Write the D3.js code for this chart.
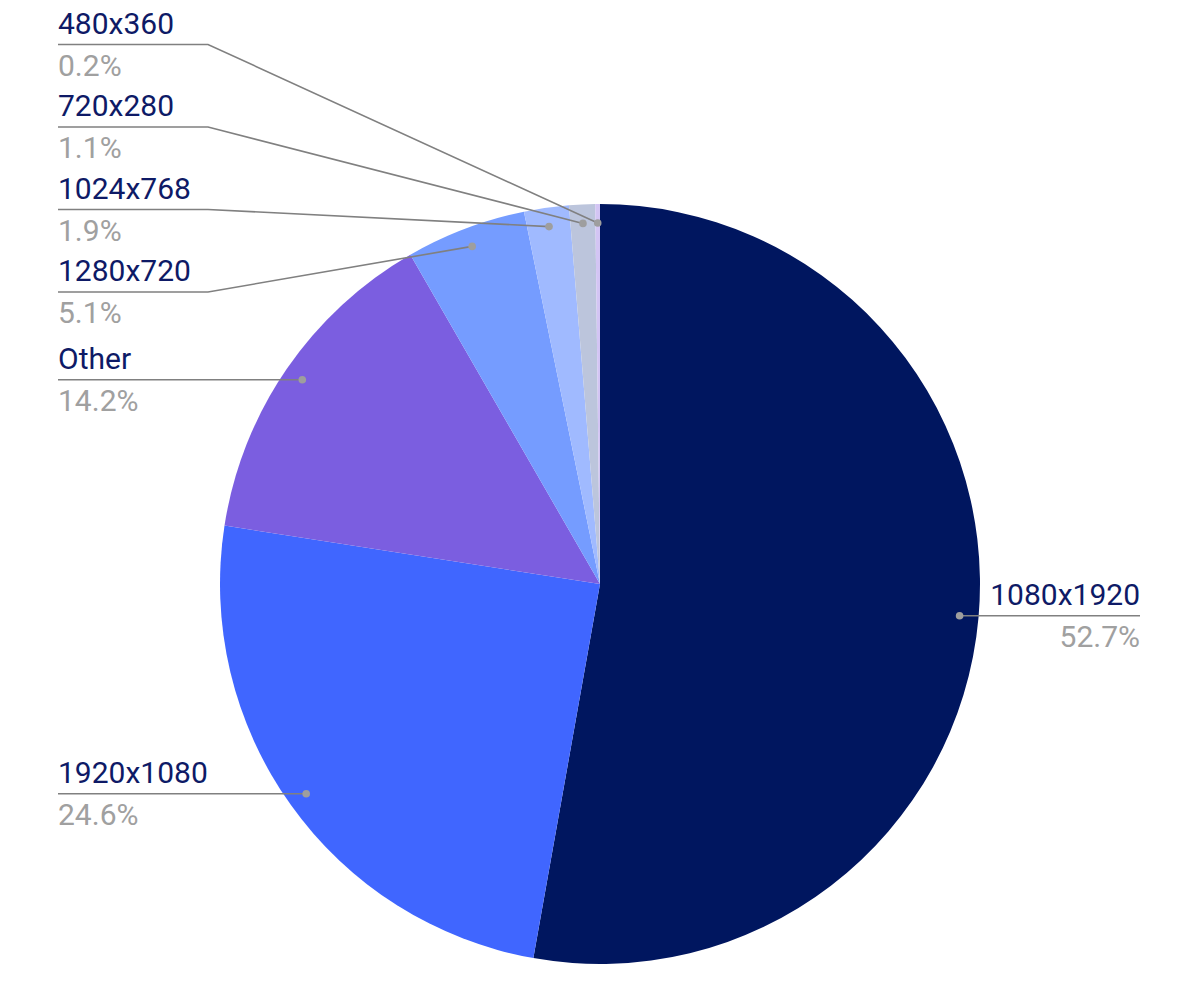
<!DOCTYPE html>
<html><head><meta charset="utf-8">
<script src="https://cdn.jsdelivr.net/npm/d3@7"></script>
<style>body{margin:0;background:#fff}svg{display:block}</style>
</head><body>
<svg id="c" width="1200" height="1006"></svg>
<script>
const categories = ["1080x1920","1920x1080","Other","1280x720","1024x768","720x280","480x360"];
const values = [52.7,24.6,14.2,5.1,1.9,1.1,0.2];
const pctLabels = ["52.7%","24.6%","14.2%","5.1%","1.9%","1.1%","0.2%"];
const colors = ["#00165f","#4066ff","#7b5ee0","#759cff","#a0baff","#bcc5dc","#d3c5f4"];

const svg = d3.select("#c");
const cx = 600, cy = 584, R = 380;
const g = svg.append("g").attr("transform", `translate(${cx},${cy})`);
const data = categories.map((c,i)=>({name:c, value:values[i], pct:pctLabels[i], color:colors[i]}));
const pie = d3.pie().value(d=>d.value).sort(null);
const arcs = pie(data);
const arc = d3.arc().innerRadius(0).outerRadius(R);
g.selectAll("path.s").data(arcs).join("path").attr("class","s")
  .attr("d", arc).attr("fill", d=>d.data.color);

const fontSize = 30;
const leftX = 58, bendX = 208, rightX = 1140;
const anchor = a => { const m=(a.startAngle+a.endAngle)/2, r=R*0.95; return [cx + r*Math.sin(m), cy - r*Math.cos(m)]; };

// layout: big slices use their own anchor height; small crowded slices are stacked from the top
const small = arcs.filter(a => a.data.value < 10).sort((a,b)=>b.startAngle-a.startAngle);
small.forEach((a,i)=>{ a.ly = 44.5 + i*82.5; });
arcs.forEach(a=>{
  const [ax, ay] = anchor(a);
  a.ax = ax; a.ay = ay;
  const m=(a.startAngle+a.endAngle)/2;
  a.right = m < Math.PI;
  if (a.ly === undefined) a.ly = ay;
});

const lab = svg.append("g");
arcs.forEach(a=>{
  let pts;
  if (a.right) pts = [[a.ax,a.ay],[rightX,a.ly]];
  else if (Math.abs(a.ly - a.ay) < 1) pts = [[leftX,a.ly],[a.ax,a.ay]];
  else pts = [[leftX,a.ly],[bendX,a.ly],[a.ax,a.ay]];
  lab.append("path").attr("d", d3.line()(pts)).attr("fill","none")
    .attr("stroke","#808080").attr("stroke-width",1.6);
  lab.append("circle").attr("cx",a.ax).attr("cy",a.ay).attr("r",3.8).attr("fill","#9e9e9e");
  const tx = a.right ? rightX : leftX, anc = a.right ? "end" : "start";
  lab.append("text").attr("x",tx).attr("y",a.ly-11).attr("text-anchor",anc)
    .attr("font-family","Roboto").attr("font-size",fontSize).attr("fill","#0e1a66").text(a.data.name);
  lab.append("text").attr("x",tx).attr("y",a.ly+31).attr("text-anchor",anc)
    .attr("font-family","Roboto").attr("font-size",fontSize).attr("fill","#a0a0a0").text(a.data.pct);
});
</script>
</body></html>
